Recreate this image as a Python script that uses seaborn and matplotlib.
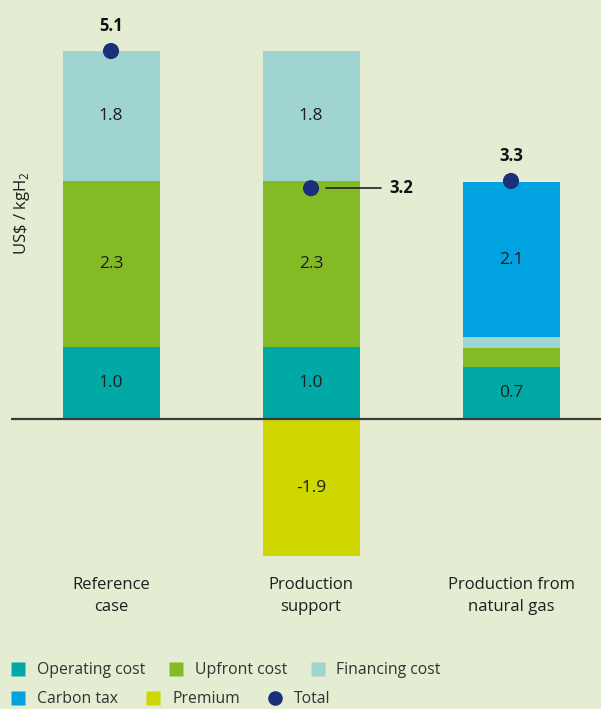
import numpy as np
import seaborn as sns
import matplotlib.pyplot as plt
from matplotlib.lines import Line2D

categories = ["Reference\ncase", "Production\nsupport", "Production from\nnatural gas"]
operating = [1.0, 1.0, 0.73]
upfront = [2.3, 2.3, 0.26]
financing = [1.8, 1.8, 0.15]
carbon_tax = [0.0, 0.0, 2.14]
premium = [0.0, -1.9, 0.0]
total = [5.1, 3.2, 3.3]

colors = {
    "Operating cost": "#00a9a6",
    "Upfront cost": "#84bb24",
    "Financing cost": "#9fd4d0",
    "Carbon tax": "#00a3e0",
    "Premium": "#cfd600",
}
total_color = "#1b2f7a"
bg = "#e4ecd1"

sns.set_style("white")
plt.rcParams["font.family"] = ["Open Sans", "DejaVu Sans"]
plt.rcParams["mathtext.fontset"] = "custom"
plt.rcParams["mathtext.rm"] = "Open Sans"

fig = plt.figure(figsize=(6.01, 7.09), dpi=100, facecolor=bg)
ax = fig.add_axes([11 / 601, (709 - 560) / 709, 590 / 601, 540 / 709])
ax.set_facecolor(bg)

layers = [
    ("Operating cost", operating),
    ("Upfront cost", upfront),
    ("Financing cost", financing),
    ("Carbon tax", carbon_tax),
]
bottom = np.zeros(len(categories))
width = 0.485
for name, vals in layers:
    vals = np.array(vals)
    sns.barplot(x=categories, y=vals, bottom=bottom, color=colors[name],
                width=width, linewidth=0, errorbar=None, saturation=1, ax=ax)
    for i, v in enumerate(vals):
        if v >= 0.5:
            ax.text(i, bottom[i] + v / 2, f"{v:.1f}", ha="center", va="center",
                    fontsize=12.5, color="#1e1e1e")
    bottom = bottom + vals

prem = np.array(premium)
sns.barplot(x=categories, y=prem, color=colors["Premium"], width=width,
            linewidth=0, errorbar=None, saturation=1, ax=ax)
for i, v in enumerate(prem):
    if v < 0:
        ax.text(i, v / 2, f"{v:.1f}", ha="center", va="center",
                fontsize=12.5, color="#1e1e1e")

pos = np.arange(len(categories))
sns.scatterplot(x=pos, y=total, color=total_color, s=135, edgecolor="none",
                zorder=5, ax=ax)
for i, t in enumerate(total):
    if i == 1:
        ax.plot([i + 0.075, i + 0.35], [t, t], color="#222222", lw=1.2)
        ax.text(i + 0.39, t, f"{t:.1f}", ha="left", va="center",
                fontsize=12, fontweight="bold", color="#111111")
    else:
        ax.annotate(f"{t:.1f}", (i, t), xytext=(0, 18), textcoords="offset points",
                    ha="center", va="center", fontsize=12, fontweight="bold",
                    color="#111111")

ax.axhline(0, color="#3a3a3a", lw=1.6, zorder=6)
ax.set_xlim(-0.5, 2.45)
ax.set_ylim(-1.95, 5.53)
ax.set_yticks([])
ax.set_xticks(pos)
ax.set_xticklabels(categories, fontsize=12, color="#1e1e1e", linespacing=1.55)
ax.tick_params(axis="x", length=0, pad=12)
ax.set_xlabel("")
for s in ax.spines.values():
    s.set_visible(False)

fig.text(22 / 601, 1 - 213 / 709, "US\\$ / kgH$_2$", rotation=90,
         ha="center", va="center", fontsize=12, color="#1e1e1e")


def handle(name):
    return Line2D([], [], marker="s", linestyle="none", markersize=10,
                  markerfacecolor=colors[name], markeredgecolor="none")


row1 = [handle("Operating cost"), handle("Upfront cost"), handle("Financing cost")]
row2 = [handle("Carbon tax"), handle("Premium"),
        Line2D([], [], marker="o", linestyle="none", markersize=10.5,
               markerfacecolor=total_color, markeredgecolor="none")]
common = dict(frameon=False, ncol=3, fontsize=11.3, handlelength=1.0,
              handletextpad=0.7, borderaxespad=0, labelcolor="#333333")
fig.legend(row1, ["Operating cost", "Upfront cost", "Financing cost"],
           loc="center left", bbox_to_anchor=(4 / 601, 1 - 670 / 709),
           columnspacing=1.45, **common)
fig.legend(row2, ["Carbon tax", "Premium", "Total"],
           loc="center left", bbox_to_anchor=(4 / 601, 1 - 699 / 709),
           columnspacing=1.75, **common)

fig.savefig("out.png", dpi=100, facecolor=bg)
